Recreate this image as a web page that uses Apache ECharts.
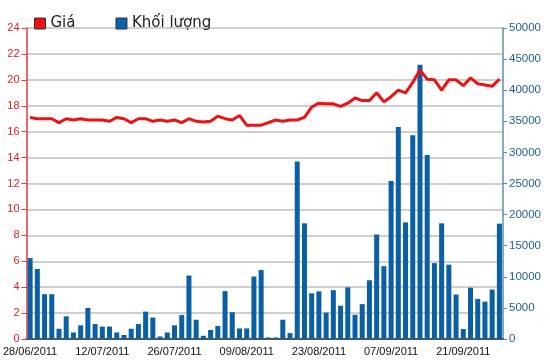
<!DOCTYPE html>
<html><head><meta charset="utf-8">
<script src="https://cdn.jsdelivr.net/npm/echarts@6/dist/echarts.min.js"></script>
<style>html,body{margin:0;padding:0;background:#fff}#c{width:550px;height:364px}</style>
</head><body><div id="c"></div>
<script>
const dates = [
"28/06/2011","29/06/2011","30/06/2011",
"01/07/2011","04/07/2011","05/07/2011","06/07/2011","07/07/2011","08/07/2011","11/07/2011","12/07/2011","13/07/2011","14/07/2011","15/07/2011","18/07/2011","19/07/2011","20/07/2011","21/07/2011","22/07/2011","25/07/2011","26/07/2011","27/07/2011","28/07/2011","29/07/2011",
"01/08/2011","02/08/2011","03/08/2011","04/08/2011","05/08/2011","08/08/2011","09/08/2011","10/08/2011","11/08/2011","12/08/2011","15/08/2011","16/08/2011","17/08/2011","18/08/2011","19/08/2011","22/08/2011","23/08/2011","24/08/2011","25/08/2011","26/08/2011","29/08/2011","30/08/2011","31/08/2011",
"01/09/2011","05/09/2011","06/09/2011","07/09/2011","08/09/2011","09/09/2011","12/09/2011","13/09/2011","14/09/2011","15/09/2011","16/09/2011","19/09/2011","20/09/2011","21/09/2011","22/09/2011","23/09/2011","26/09/2011","27/09/2011","28/09/2011"];
const price = [
17.1,17.0,17.0,17.0,16.7,17.0,16.9,17.0,16.9,16.9,
16.9,16.8,17.1,17.0,16.7,17.0,17.0,16.8,16.9,16.8,
16.9,16.7,17.0,16.8,16.75,16.8,17.2,17.0,16.9,17.25,
16.5,16.5,16.5,16.7,16.9,16.8,16.9,16.9,17.1,17.9,
18.2,18.15,18.15,17.95,18.2,18.6,18.4,18.4,19.0,18.3,
18.7,19.2,19.0,19.8,20.75,20.05,20.0,19.2,20.0,20.0,
19.55,20.15,19.7,19.6,19.5,20.05];
const volume = [
13000,11250,7200,7200,1650,3650,1050,2200,5000,2400,
2000,2000,1050,650,1650,2400,4400,3450,400,1050,
2200,3850,10200,3100,520,1450,2100,7700,4300,1700,
1700,10050,11100,250,250,3100,950,28550,18600,7350,
7650,4250,7850,5350,8300,3900,5600,9450,16800,11700,
25400,34100,18750,32750,44100,29600,12200,18600,11950,7150,
1600,8250,6450,6000,7950,18550];
const priceTicks = {min:0, max:24, interval:2};
const volTicks = {min:0, max:50000, interval:5000};

const chart = echarts.init(document.getElementById('c'), null, {renderer:'canvas'});
chart.setOption({
  animation:false,
  backgroundColor:'#fff',
  legend:{
    left:29, top:11, itemWidth:11, itemHeight:11, itemGap:40,
    itemStyle:{borderColor:'#333', borderWidth:1},
    lineStyle:{width:1},
    textStyle:{fontFamily:'DejaVu Sans', fontSize:15, color:'#222'},
    data:[
      {name:'Giá', icon:'path://M0,0H10V10H0Z', itemStyle:{color:'#ee1111', borderColor:'#333', borderWidth:1}},
      {name:'Khối lượng', icon:'rect', itemStyle:{color:'#0a63a8', borderColor:'#333', borderWidth:1}}
    ]
  },
  grid:{left:26, right:47, top:28, bottom:25},
  xAxis:[{
    type:'category', data:dates, boundaryGap:true,
    axisLine:{lineStyle:{color:'#333', width:1}},
    axisTick:{interval:9, alignWithLabel:true, length:5, lineStyle:{color:'#333'}},
    axisLabel:{interval:9, margin:7, fontFamily:'Liberation Sans', fontSize:11, color:'#111'}
  },{
    type:'category', data:dates, position:'top',
    axisLine:{show:true, lineStyle:{color:'#555', width:2}},
    axisTick:{show:false}, axisLabel:{show:false}
  }],
  yAxis:[{
    type:'value', position:'left', min:priceTicks.min, max:priceTicks.max, interval:priceTicks.interval,
    axisLine:{show:true, lineStyle:{color:'#e8383d', width:1.5}},
    axisTick:{show:true, length:5, lineStyle:{color:'#e8383d'}},
    axisLabel:{margin:7, fontFamily:'Liberation Sans', fontSize:11, color:'#e0202a'},
    splitLine:{show:true, lineStyle:{color:'#cfcfcf', width:2}}
  },{
    type:'value', position:'right', min:volTicks.min, max:volTicks.max, interval:volTicks.interval,
    axisLine:{show:true, lineStyle:{color:'#5a8fb5', width:1.5}},
    axisTick:{show:true, length:4, lineStyle:{color:'#5a8fb5'}},
    axisLabel:{margin:6, fontFamily:'Liberation Sans', fontSize:11.5, color:'#1f5f91', formatter:function(v){return String(v);}},
    splitLine:{show:false}
  }],
  series:[{
    name:'Khối lượng', type:'bar', xAxisIndex:0, yAxisIndex:1, data:volume,
    barWidth:5, itemStyle:{color:'#0a5fa5'}, z:2
  },{
    name:'Giá', type:'line', xAxisIndex:0, yAxisIndex:0, data:price,
    showSymbol:false,
    lineStyle:{color:'#ee1111', width:3},
    itemStyle:{color:'#ee1111'}, z:3
  }]
});
</script></body></html>
